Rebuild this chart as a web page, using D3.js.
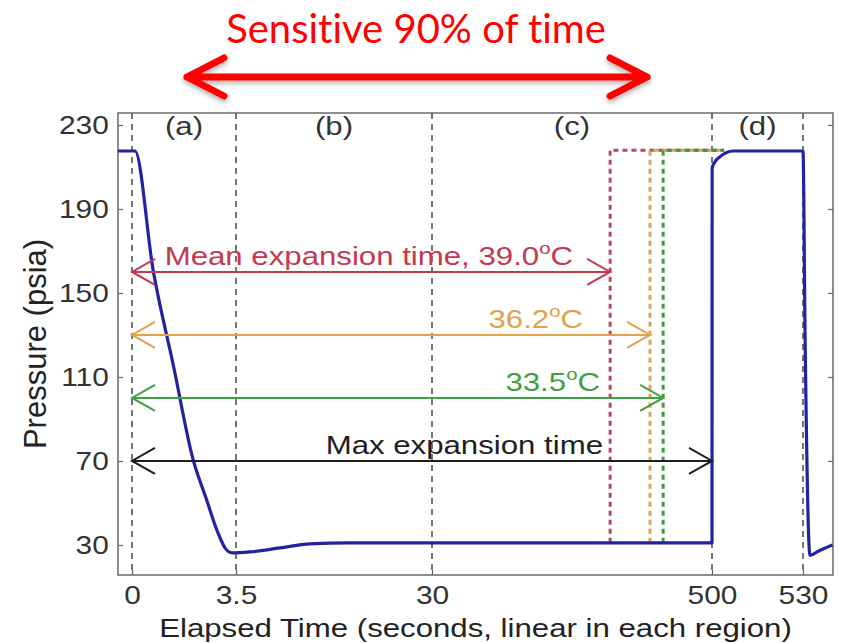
<!DOCTYPE html>
<html>
<head>
<meta charset="utf-8">
<script src="https://cdn.jsdelivr.net/npm/d3@7"></script>
<style>
  body { margin: 0; background: #fff; }
  svg { display: block; }
  .tick line { stroke: #666; stroke-width: 1.2; }
</style>
</head>
<body>
<svg id="chart" width="841" height="643"></svg>
<script>
// ---- data (time in s on the piecewise axis, pressure in psia) ----
var timeVals     = [-0.47, 0.1, 0.71, 1.4, 2.05, 2.5, 2.86, 3.13, 3.37, 5.4, 9.45, 13.5, 18.9, 30, 500, 500.05, 501, 502.6, 506.9, 530, 530.7, 532.3, 535, 539.7];
var pressureVals = [217.6, 217.6, 161, 115, 71, 52, 37, 28.6, 26.2, 26.7, 28.6, 30.5, 31, 31, 31, 209.5, 212.5, 214.8, 217.6, 217.6, 127.6, 25, 27, 30];

var regionBreaks = [0, 3.5, 30, 500, 530];
var regionNames  = ['(a)', '(b)', '(c)', '(d)'];
var xTickLabels  = ['0', '3.5', '30', '500', '530'];
var yTicks       = [30, 70, 110, 150, 190, 230];

// expansion times for each temperature (dashed steps) and the arrows
var arrowNames   = ['Mean expansion time, 39.0', '36.2', '33.5', 'Max expansion time'];
var arrowDegree  = [true, true, true, false];
var arrowLevel   = [160, 130, 100, 70];
var arrowEnd     = [329, 396, 418, 500];
var labelEnd     = [266.7, 283.5, 312, 317];
var arrowColors  = ['#c4394f', '#e3a24a', '#3fa03f', '#1e1e1e'];
var stepColors   = ['#b8495a', '#d9a55a', '#3c9a3c'];
var stepHigh     = 218;
var stepLow      = 31;
var stepStop     = 504;

var sensSpan = [1.85, 391];

// ---- layout ----
var svg = d3.select('#chart');
var frame = {l: 118, r: 833, t: 113, b: 575};
var font = '"Liberation Sans", Arial, Helvetica, sans-serif';

var x = d3.scaleLinear().domain(regionBreaks).range([132, 236, 432, 712, 803]);
var y = d3.scaleLinear().domain([15.7, 235.7]).range([frame.b, frame.t]);

var defs = svg.append('defs');
defs.append('clipPath').attr('id', 'plotClip')
  .append('rect')
  .attr('x', frame.l).attr('y', frame.t)
  .attr('width', frame.r - frame.l).attr('height', frame.b - frame.t);
var shadow = defs.append('filter').attr('id', 'shadow')
  .attr('x', '-10%').attr('y', '-50%').attr('width', '120%').attr('height', '200%');
shadow.append('feDropShadow')
  .attr('dx', 0).attr('dy', 3).attr('stdDeviation', 2.5)
  .attr('flood-color', '#000').attr('flood-opacity', 0.3);

// ---- title + red arrow ----
svg.append('text')
  .attr('x', 416).attr('y', 43)
  .attr('text-anchor', 'middle')
  .attr('font-family', 'Lato, "Open Sans", sans-serif')
  .attr('font-size', 40)
  .style('font-variant-ligatures', 'none')
  .attr('fill', '#ff0000')
  .text('Sensitive 90% of time');

var ay = 77, ax0 = x(sensSpan[0]), ax1 = x(sensSpan[1]);
svg.append('path')
  .attr('d', 'M' + ax0 + ',' + ay + 'L' + ax1 + ',' + ay +
             'M' + (ax0 + 37) + ',' + (ay - 19) + 'L' + ax0 + ',' + ay + 'L' + (ax0 + 37) + ',' + (ay + 19) +
             'M' + (ax1 - 37) + ',' + (ay - 19) + 'L' + ax1 + ',' + ay + 'L' + (ax1 - 37) + ',' + (ay + 19))
  .attr('fill', 'none')
  .attr('stroke', '#ff0000')
  .attr('stroke-width', 7)
  .attr('stroke-linecap', 'round')
  .attr('stroke-linejoin', 'round')
  .attr('filter', 'url(#shadow)');

// ---- plot ----
var plot = svg.append('g');

// region separators
plot.selectAll('.sep')
  .data(regionBreaks)
  .enter()
  .append('line')
  .attr('class', 'sep')
  .attr('x1', function(d) { return x(d); })
  .attr('x2', function(d) { return x(d); })
  .attr('y1', frame.t).attr('y2', frame.b)
  .attr('stroke', '#4a4a4a')
  .attr('stroke-width', 1.5)
  .attr('stroke-dasharray', '6,5');

// axes, matlab-like ticks pointing inward
var yAxis = plot.append('g')
  .attr('transform', 'translate(' + frame.l + ',0)')
  .call(d3.axisLeft(y).tickValues(yTicks).tickSize(-5).tickPadding(8));
plot.append('g')
  .attr('transform', 'translate(' + frame.r + ',0)')
  .call(d3.axisRight(y).tickValues(yTicks).tickSize(-5).tickFormat(''));
var xAxis = plot.append('g')
  .attr('transform', 'translate(0,' + frame.b + ')')
  .call(d3.axisBottom(x).tickValues(regionBreaks).tickSize(-5).tickPadding(10)
    .tickFormat(function(d, i) { return xTickLabels[i]; }));
plot.selectAll('.domain').remove();

yAxis.selectAll('text')
  .attr('font-family', font).attr('font-size', 26).attr('fill', '#333')
  .attr('transform', 'scale(1.15,1)');
xAxis.selectAll('text')
  .attr('font-family', font).attr('font-size', 26).attr('fill', '#333')
  .attr('dy', '0.75em');
xAxis.selectAll('.tick text')
  .attr('transform', 'scale(1.15,1)')
  .attr('x', 0);

// frame
plot.append('rect')
  .attr('x', frame.l).attr('y', frame.t)
  .attr('width', frame.r - frame.l).attr('height', frame.b - frame.t)
  .attr('fill', 'none')
  .attr('stroke', '#6a6a6a')
  .attr('stroke-width', 1.5);

// region labels
plot.selectAll('.region')
  .data(regionNames)
  .enter()
  .append('text')
  .attr('class', 'region')
  .attr('transform', function(d, i) {
    var cx = (x(regionBreaks[i]) + x(regionBreaks[i + 1])) / 2;
    return 'translate(' + cx + ',135) scale(1.2,1)';
  })
  .attr('text-anchor', 'middle')
  .attr('font-family', font).attr('font-size', 26).attr('fill', '#333')
  .text(function(d) { return d; });

var inner = plot.append('g').attr('clip-path', 'url(#plotClip)');

// dashed step responses for each temperature
stepColors.forEach(function(c, i) {
  var pts = [[arrowEnd[i], stepLow], [arrowEnd[i], stepHigh], [stepStop, stepHigh]];
  inner.append('path')
    .datum(pts)
    .attr('d', d3.line().x(function(d) { return x(d[0]); }).y(function(d) { return y(d[1]); }))
    .attr('fill', 'none')
    .attr('stroke', c)
    .attr('stroke-width', 3)
    .attr('stroke-dasharray', '5,4');
});

// pressure trace
var trace = timeVals.map(function(t, i) { return [t, pressureVals[i]]; });
inner.append('path')
  .datum(trace)
  .attr('d', d3.line()
    .curve(d3.curveMonotoneX)
    .x(function(d) { return x(d[0]); })
    .y(function(d) { return y(d[1]); }))
  .attr('fill', 'none')
  .attr('stroke', '#2222a2')
  .attr('stroke-width', 3.2)
  .attr('stroke-linejoin', 'round');

// double arrows with labels
arrowNames.forEach(function(name, i) {
  var yy = y(arrowLevel[i]);
  var x0 = x(0), x1 = x(arrowEnd[i]);
  var c = arrowColors[i];
  inner.append('path')
    .attr('d', 'M' + x0 + ',' + yy + 'L' + x1 + ',' + yy +
               'M' + (x0 + 23) + ',' + (yy - 13) + 'L' + x0 + ',' + yy + 'L' + (x0 + 23) + ',' + (yy + 13) +
               'M' + (x1 - 23) + ',' + (yy - 13) + 'L' + x1 + ',' + yy + 'L' + (x1 - 23) + ',' + (yy + 13))
    .attr('fill', 'none')
    .attr('stroke', c)
    .attr('stroke-width', 2);

  var t = plot.append('text')
    .attr('transform', 'translate(' + x(labelEnd[i]) + ',' + (yy - 7) + ') scale(1.2,1)')
    .attr('text-anchor', 'end')
    .attr('font-family', font).attr('font-size', 26)
    .attr('fill', c);
  t.append('tspan').text(name);
  if (arrowDegree[i]) {
    t.append('tspan').attr('dy', -11).attr('font-size', 17).text('o');
    t.append('tspan').attr('dy', 11).text('C');
  }
});

// axis titles
svg.append('text')
  .attr('transform', 'translate(' + ((frame.l + frame.r) / 2) + ',637) scale(1.2,1)')
  .attr('text-anchor', 'middle')
  .attr('font-family', font).attr('font-size', 26).attr('fill', '#222')
  .text('Elapsed Time (seconds, linear in each region)');

svg.append('text')
  .attr('transform', 'translate(46,' + ((frame.t + frame.b) / 2) + ') rotate(-90)')
  .attr('text-anchor', 'middle')
  .attr('font-family', font).attr('font-size', 31).attr('fill', '#222')
  .text('Pressure (psia)');
</script>
</body>
</html>
